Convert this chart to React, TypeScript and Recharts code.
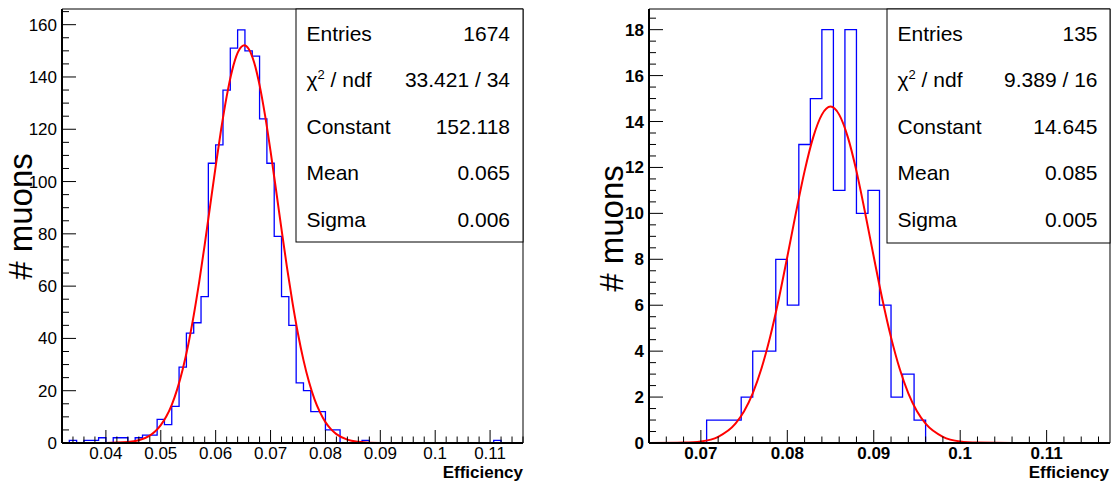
import React from 'react';
import { ComposedChart, Line, XAxis, YAxis, ReferenceArea } from 'recharts';

const FONT = '"Liberation Sans", Arial, Helvetica, sans-serif';

// ---- left histogram: all muons ----
const leftLow = 0.032;
const leftHigh = 0.116;
const leftCounts = [
  0, 1, 0, 1, 1, 2, 0, 2, 2, 0, 2, 3, 3, 9, 7, 14, 29, 42, 46, 56,
  107, 114, 135, 151, 158, 150, 148, 124, 107, 79, 56, 45, 23, 20, 12, 12, 5, 5, 0, 0,
  0, 1, 0, 0, 0, 0, 0, 0, 0, 0, 0, 0, 0, 0, 0, 0, 0, 0, 0, 1,
  0, 0, 0,
];
const leftFitX = [
  0.032, 0.036, 0.04, 0.044, 0.046, 0.048, 0.049, 0.05, 0.051, 0.052, 0.053, 0.054, 0.055,
  0.056, 0.057, 0.058, 0.059, 0.06, 0.061, 0.062, 0.063, 0.064, 0.065, 0.0652, 0.066, 0.067,
  0.068, 0.069, 0.07, 0.071, 0.072, 0.073, 0.074, 0.075, 0.076, 0.077, 0.078, 0.079, 0.08,
  0.081, 0.082, 0.084, 0.086, 0.088, 0.092, 0.1, 0.116,
];
const leftFitY = [
  0, 0, 0.03, 0.36, 1.07, 2.85, 4.47, 6.85, 10.1, 14.6, 20.6, 28.2, 37.6,
  48.8, 61.6, 75.8, 90.8, 105.8, 120.0, 132.5, 142.5, 149.2, 152.0, 152.1, 150.8, 145.6,
  136.9, 125.3, 111.6, 96.8, 81.7, 67.1, 53.7, 41.8, 31.7, 23.4, 16.8, 11.8, 8.0,
  5.3, 3.4, 1.3, 0.45, 0.13, 0.01, 0, 0,
];
const leftXMajor = [0.04, 0.05, 0.06, 0.07, 0.08, 0.09, 0.1, 0.11];
const leftYMajor = [0, 20, 40, 60, 80, 100, 120, 140, 160];
const leftStats = [
  ['Entries', '1674'],
  ['chi', '33.421 / 34'],
  ['Constant', '152.118'],
  ['Mean', '0.065'],
  ['Sigma', '0.006'],
];

// ---- right histogram ----
const rightLow = 0.064;
const rightHigh = 0.11733;
const rightCounts = [
  0, 0, 0, 0, 0, 1, 1, 1, 2, 4, 4, 8, 6, 13, 15, 18, 11, 18, 10, 11,
  6, 2, 3, 1, 0, 0, 0, 0, 0, 0, 0, 0, 0, 0, 0, 0, 0, 0, 0, 0,
];
const rightFitX = [
  0.064, 0.068, 0.07, 0.072, 0.074, 0.075, 0.076, 0.077, 0.078, 0.079, 0.08, 0.081, 0.082,
  0.083, 0.084, 0.085, 0.086, 0.087, 0.088, 0.089, 0.09, 0.091, 0.092, 0.093, 0.094, 0.095,
  0.096, 0.098, 0.1, 0.102, 0.106, 0.11733,
];
const rightFitY = [
  0, 0.02, 0.07, 0.27, 0.84, 1.38, 2.16, 3.23, 4.6, 6.25, 8.11, 10.03, 11.84,
  13.32, 14.3, 14.65, 14.3, 13.32, 11.84, 10.03, 8.11, 6.25, 4.6, 3.23, 2.16, 1.38,
  0.84, 0.27, 0.07, 0.02, 0, 0,
];
const rightXMajor = [0.07, 0.08, 0.09, 0.1, 0.11];
const rightYMajor = [0, 2, 4, 6, 8, 10, 12, 14, 16, 18];
const rightStats = [
  ['Entries', '135'],
  ['chi', '9.389 / 16'],
  ['Constant', '14.645'],
  ['Mean', '0.085'],
  ['Sigma', '0.005'],
];

const histPoints = (lo: number, hi: number, counts: number[]) => {
  const w = (hi - lo) / counts.length;
  const pts = counts.map((c, i) => ({ x: lo + i * w, y: c }));
  pts.push({ x: hi, y: counts[counts.length - 1] });
  return pts;
};

const fitPoints = (xs: number[], ys: number[]) => xs.map((x, i) => ({ x, y: ys[i] }));

const stepTicks = (from: number, to: number, step: number) => {
  const out: number[] = [];
  for (let v = from; v <= to + step * 0.01; v += step) out.push(Number(v.toFixed(5)));
  return out;
};

const isMajor = (majors: number[], v: number) => majors.some((m) => Math.abs(m - v) < 1e-7);

const makeXTick = (majors: number[], bold: boolean) => (props: any) => {
  const { x, y, payload } = props;
  const major = isMajor(majors, payload.value);
  return (
    <g>
      <line x1={x} y1={y} x2={x} y2={y - (major ? 13 : 6.5)} stroke="#000" strokeWidth={1} />
      {major && (
        <text x={x} y={y + 15.5} textAnchor="middle" fontSize={17} fontFamily={FONT}
          fontWeight={bold ? 'bold' : 'normal'} fill="#000">
          {String(payload.value)}
        </text>
      )}
    </g>
  );
};

const makeYTick = (majors: number[], bold: boolean) => (props: any) => {
  const { x, y, payload } = props;
  const major = isMajor(majors, payload.value);
  return (
    <g>
      <line x1={x} y1={y} x2={x + (major ? 14 : 7)} y2={y} stroke="#000" strokeWidth={1} />
      {major && (
        <text x={x - 5} y={y + 6} textAnchor="end" fontSize={17} fontFamily={FONT}
          fontWeight={bold ? 'bold' : 'normal'} fill="#000">
          {String(payload.value)}
        </text>
      )}
    </g>
  );
};

type PanelProps = {
  left: number;
  width: number;
  yAxisWidth: number;
  rightMargin: number;
  lo: number;
  hi: number;
  yMax: number;
  counts: number[];
  fitX: number[];
  fitY: number[];
  xMajor: number[];
  yMajor: number[];
  yMinorStep: number;
  bold: boolean;
};

function Panel(p: PanelProps) {
  const xTicks = stepTicks(p.lo, p.hi, 0.002);
  const yTicks = stepTicks(0, p.yMax, p.yMinorStep);
  return (
    <div style={{ position: 'absolute', left: p.left, top: 0 }}>
      <ComposedChart width={p.width} height={481}
        margin={{ top: 9, right: p.rightMargin, bottom: 0, left: 0 }}>
        <XAxis dataKey="x" type="number" domain={[p.lo, p.hi]} allowDataOverflow
          ticks={xTicks} interval={0} tickSize={0} tickMargin={0} height={38}
          axisLine={{ stroke: '#000', strokeWidth: 2 }} tickLine={false}
          tick={makeXTick(p.xMajor, p.bold)} />
        <YAxis type="number" domain={[0, p.yMax]} allowDataOverflow
          ticks={yTicks} interval={0} tickSize={0} tickMargin={0} width={p.yAxisWidth}
          axisLine={{ stroke: '#000', strokeWidth: 2 }} tickLine={false}
          tick={makeYTick(p.yMajor, p.bold)} />
        <ReferenceArea x1={p.lo} x2={p.hi} y1={0} y2={p.yMax} fill="none"
          stroke="#000" strokeWidth={1} />
        <Line data={histPoints(p.lo, p.hi, p.counts)} dataKey="y" type="stepAfter"
          stroke="#0000ff" strokeWidth={1.3} dot={false} activeDot={false}
          isAnimationActive={false} />
        <Line data={fitPoints(p.fitX, p.fitY)} dataKey="y" type="monotone"
          stroke="#ff0000" strokeWidth={2} dot={false} activeDot={false}
          isAnimationActive={false} />
      </ComposedChart>
    </div>
  );
}

function StatsBox({ x, y, w, h, rows, textX, valueX }: any) {
  const baselines = [40.5, 87, 133.5, 180, 226.5];
  return (
    <g fontFamily={FONT} fontSize={21} fill="#000">
      <rect x={x} y={y} width={w} height={h} fill="#fff" stroke="#000" strokeWidth={1} />
      {rows.map((r: string[], i: number) => (
        <g key={r[0]}>
          {r[0] === 'chi' ? (
            <text x={textX} y={baselines[i]}>
              χ<tspan fontSize={13} dy={-8}>2</tspan>
              <tspan dy={8}> / ndf</tspan>
            </text>
          ) : (
            <text x={textX} y={baselines[i]}>{r[0]}</text>
          )}
          <text x={valueX} y={baselines[i]} textAnchor="end">{r[1]}</text>
        </g>
      ))}
    </g>
  );
}

export default function App() {
  return (
    <div style={{ position: 'absolute', left: 0, top: 0, width: 1113, height: 481,
      background: '#fff', overflow: 'hidden' }}>
      <Panel left={0} width={540} yAxisWidth={62} rightMargin={17}
        lo={leftLow} hi={leftHigh} yMax={166} counts={leftCounts}
        fitX={leftFitX} fitY={leftFitY} xMajor={leftXMajor} yMajor={leftYMajor}
        yMinorStep={5} bold={false} />
      <Panel left={560} width={553} yAxisWidth={89} rightMargin={3}
        lo={rightLow} hi={rightHigh} yMax={18.9} counts={rightCounts}
        fitX={rightFitX} fitY={rightFitY} xMajor={rightXMajor} yMajor={rightYMajor}
        yMinorStep={0.5} bold={true} />
      <svg width={1113} height={481}
        style={{ position: 'absolute', left: 0, top: 0, pointerEvents: 'none' }}>
        <StatsBox x={296} y={9} w={227} h={233} rows={leftStats} textX={306.5} valueX={510} />
        <StatsBox x={887} y={9} w={223} h={234} rows={rightStats} textX={897.5} valueX={1097.5} />
        <text transform="translate(32,216.5) rotate(-90)" textAnchor="middle"
          fontFamily={FONT} fontSize={33} fill="#000"># muons</text>
        <text transform="translate(623,228.5) rotate(-90)" textAnchor="middle"
          fontFamily={FONT} fontSize={33} fill="#000"># muons</text>
        <text x={523} y={477.5} textAnchor="end" fontFamily={FONT} fontSize={17}
          fontWeight="bold" fill="#000">Efficiency</text>
        <text x={1109} y={477.5} textAnchor="end" fontFamily={FONT} fontSize={17}
          fontWeight="bold" fill="#000">Efficiency</text>
      </svg>
    </div>
  );
}
